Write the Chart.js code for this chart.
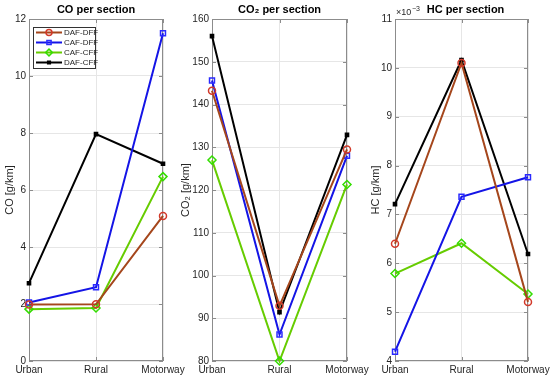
<!DOCTYPE html>
<html lang="en">
<head>
    <meta charset="UTF-8">
    <title>Emissions per section</title>
    <script src="https://cdn.jsdelivr.net/npm/chart.js"></script>
    <style>
        body {
            margin: 0;
            padding: 0;
            background: #ffffff;
        }

        .stage {
            position: relative;
            width: 550px;
            height: 379px;
            overflow: hidden;
        }

        .panel {
            position: absolute;
            top: 0;
            height: 379px;
        }
    </style>
</head>
<body>
    <div class="stage">
        <div class="panel" style="left:0px;width:190px"><canvas id="coChart"></canvas></div>
        <div class="panel" style="left:176px;width:195px"><canvas id="co2Chart"></canvas></div>
        <div class="panel" style="left:366px;width:184px"><canvas id="hcChart"></canvas></div>
    </div>

    <script>
        const sections = ['Urban', 'Rural', 'Motorway'];
        const seriesNames = ['DAF-DFF', 'CAF-DFF', 'CAF-CFF', 'DAF-CFF'];

        // CO [g/km]
        const coDafDff = [1.98, 1.99, 5.09];
        const coCafDff = [2.05, 2.59, 11.5];
        const coCafCff = [1.82, 1.86, 6.47];
        const coDafCff = [2.73, 7.96, 6.92];

        // CO2 [g/km]
        const co2DafDff = [143.2, 92.9, 129.5];
        const co2CafDff = [145.6, 86.2, 128.0];
        const co2CafCff = [127.0, 80.0, 121.3];
        const co2DafCff = [156.0, 91.4, 132.9];

        // HC [g/km], values in units of 10^-3
        const hcDafDff = [6.4, 10.1, 5.21];
        const hcCafDff = [4.19, 7.36, 7.76];
        const hcCafCff = [5.79, 6.41, 5.37];
        const hcDafCff = [7.21, 10.16, 6.19];

        const coTicks = [0, 12, 2];
        const co2Ticks = [80, 160, 10];
        const hcTicks = [4, 11, 1];

        const looks = [
            { line: '#a5461c', edge: '#d2392a', face: 'rgba(0,0,0,0)', style: 'circle', r: 3.5 },
            { line: '#1414e6', edge: '#2a2aff', face: 'rgba(0,0,0,0)', style: 'rect', r: 3.5 },
            { line: '#66cc00', edge: '#33dd00', face: 'rgba(0,0,0,0)', style: 'rectRot', r: 4 },
            { line: '#000000', edge: '#000000', face: '#000000', style: 'rect', r: 2.2 }
        ];

        const font = '"Liberation Sans", Arial, sans-serif';
        const axisGray = '#8c8c8c';
        const textGray = '#262626';

        function makeSets(list) {
            return list.map((vals, i) => ({
                label: seriesNames[i],
                data: vals,
                borderColor: looks[i].line,
                borderWidth: 2,
                pointStyle: looks[i].style,
                pointRadius: looks[i].r,
                pointBorderWidth: 1.5,
                pointBorderColor: looks[i].edge,
                pointBackgroundColor: looks[i].face,
                tension: 0,
                clip: false
            }));
        }

        // box, inward ticks, title and exponent label
        const framePlugin = {
            id: 'frame',
            beforeDatasetsDraw(chart, args, opts) {
                const { ctx, chartArea: a, scales } = chart;
                ctx.save();
                ctx.strokeStyle = axisGray;
                ctx.lineWidth = 1;
                ctx.strokeRect(a.left + 0.5, a.top + 0.5, a.right - a.left - 1, a.bottom - a.top - 1);
                ctx.beginPath();
                scales.y.ticks.forEach((t, i) => {
                    const y = Math.round(scales.y.getPixelForTick(i)) + 0.5;
                    ctx.moveTo(a.left, y); ctx.lineTo(a.left + 4, y);
                    ctx.moveTo(a.right, y); ctx.lineTo(a.right - 4, y);
                });
                scales.x.ticks.forEach((t, i) => {
                    const x = Math.round(scales.x.getPixelForTick(i)) + 0.5;
                    ctx.moveTo(x, a.bottom); ctx.lineTo(x, a.bottom - 4);
                    ctx.moveTo(x, a.top); ctx.lineTo(x, a.top + 4);
                });
                ctx.stroke();
                ctx.restore();
            },
            afterDraw(chart, args, opts) {
                const { ctx, chartArea: a } = chart;
                ctx.save();
                ctx.fillStyle = '#000';
                ctx.font = 'bold 11px ' + font;
                ctx.textAlign = 'center';
                ctx.textBaseline = 'middle';
                ctx.fillText(opts.title, (a.left + a.right) / 2 + (opts.shift || 0), 10);
                if (opts.exponent) {
                    ctx.fillStyle = textGray;
                    ctx.textAlign = 'left';
                    ctx.font = '9px ' + font;
                    ctx.fillText('\u00d710', a.left + 1, 13);
                    ctx.font = '7px ' + font;
                    ctx.fillText('\u22123', a.left + 17, 9);
                }
                ctx.restore();
            }
        };

        // MATLAB style legend box with line + marker samples
        const boxLegend = {
            id: 'boxLegend',
            afterDraw(chart) {
                const { ctx, chartArea: a } = chart;
                const x0 = a.left + 4, y0 = a.top + 8;
                ctx.save();
                ctx.fillStyle = '#ffffff';
                ctx.fillRect(x0, y0, 62, 41);
                ctx.strokeStyle = '#333';
                ctx.lineWidth = 1;
                ctx.strokeRect(x0 + 0.5, y0 + 0.5, 62, 41);
                chart.data.datasets.forEach((ds, i) => {
                    const y = y0 + 5.5 + i * 10;
                    ctx.strokeStyle = ds.borderColor;
                    ctx.lineWidth = 2;
                    ctx.beginPath();
                    ctx.moveTo(x0 + 3, y);
                    ctx.lineTo(x0 + 29, y);
                    ctx.stroke();
                    ctx.strokeStyle = ds.pointBorderColor;
                    ctx.fillStyle = ds.pointBackgroundColor;
                    ctx.lineWidth = 1.5;
                    Chart.helpers.drawPoint(ctx, {
                        pointStyle: ds.pointStyle,
                        radius: ds.pointRadius * 0.85,
                        borderWidth: 1.5,
                        rotation: 0
                    }, x0 + 16, y);
                    ctx.fillStyle = textGray;
                    ctx.font = '8px ' + font;
                    ctx.textAlign = 'left';
                    ctx.textBaseline = 'middle';
                    ctx.fillText(ds.label, x0 + 31, y + 0.5);
                });
                ctx.restore();
            }
        };

        function buildChart(id, sets, ticks, yTitle, frameOpts, yWidth, padRight, extra) {
            const ctx = document.getElementById(id).getContext('2d');
            return new Chart(ctx, {
                type: 'line',
                data: { labels: sections, datasets: makeSets(sets) },
                options: {
                    responsive: true,
                    maintainAspectRatio: false,
                    animation: false,
                    layout: { padding: { top: 19, right: padRight, bottom: 0, left: 0 } },
                    scales: {
                        x: {
                            offset: false,
                            grid: { color: '#e6e6e6', drawTicks: false },
                            border: { display: false },
                            ticks: {
                                color: textGray,
                                font: { family: font, size: 10 },
                                padding: 3,
                                maxRotation: 0,
                                minRotation: 0,
                                autoSkip: false
                            },
                            afterFit(scale) {
                                scale.height = 18;
                                scale.paddingLeft = 0;
                                scale.paddingRight = 0;
                            }
                        },
                        y: {
                            min: ticks[0],
                            max: ticks[1],
                            grid: { color: '#e6e6e6', drawTicks: false },
                            border: { display: false },
                            ticks: {
                                stepSize: ticks[2],
                                color: textGray,
                                font: { family: font, size: 10 },
                                padding: 3
                            },
                            title: {
                                display: true,
                                text: yTitle,
                                color: textGray,
                                font: { family: font, size: 11 },
                                padding: { top: 3, bottom: 0 }
                            },
                            afterFit(scale) {
                                scale.width = yWidth;
                                scale.paddingTop = 0;
                                scale.paddingBottom = 0;
                            }
                        }
                    },
                    plugins: {
                        legend: { display: false },
                        tooltip: { enabled: false },
                        frame: frameOpts
                    }
                },
                plugins: [framePlugin].concat(extra || [])
            });
        }

        buildChart('coChart', [coDafDff, coCafDff, coCafCff, coDafCff], coTicks,
            'CO [g/km]', { title: 'CO per section' }, 29, 27, [boxLegend]);

        buildChart('co2Chart', [co2DafDff, co2CafDff, co2CafCff, co2DafCff], co2Ticks,
            'CO\u2082 [g/km]', { title: 'CO\u2082 per section' }, 36, 24);

        buildChart('hcChart', [hcDafDff, hcCafDff, hcCafCff, hcDafCff], hcTicks,
            'HC [g/km]', { title: 'HC per section', exponent: true, shift: 4 }, 29, 22);
    </script>
</body>
</html>
